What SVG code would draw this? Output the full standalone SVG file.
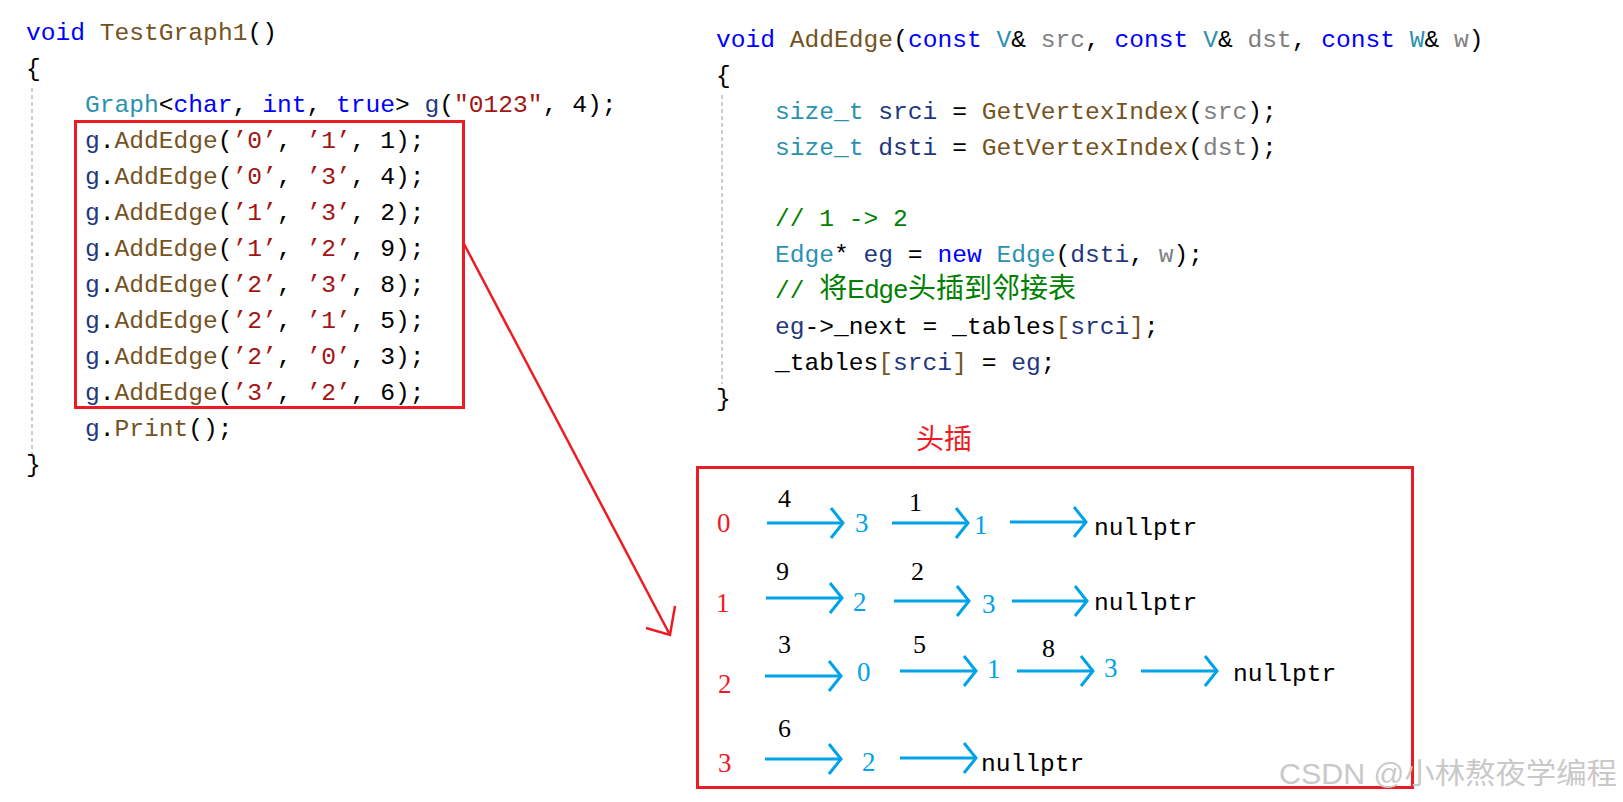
<svg xmlns="http://www.w3.org/2000/svg" width="1623" height="802" viewBox="0 0 1623 802" xml:space="preserve">
<style>
.code{font-family:"Liberation Mono","DejaVu Sans Mono",monospace;font-size:24.6px;fill:#000}
.kw{fill:#0000FF}.fn{fill:#74531F}.ty{fill:#2B91AF}.var{fill:#1F377F}.str{fill:#A31515}.prm{fill:#808080}.cm{fill:#008000}
.cjk{font-family:"Noto Sans CJK SC",sans-serif;font-size:28px}
.sans{font-family:"Liberation Sans",sans-serif;font-size:26px}
.guide{stroke:#BDBDBD;stroke-width:1.5;stroke-dasharray:4 3;fill:none}
.redbox{fill:none;stroke:#ED1C24;stroke-width:3}
.dig{font-family:"Liberation Serif",serif;font-size:27px}
.red{fill:#ED1C24}.blue{fill:#00A2E8}
.wt{font-family:"Liberation Serif",serif;font-size:26px;fill:#000}
.np{font-family:"Liberation Mono",monospace;font-size:24.6px;fill:#000}
.arr{stroke:#00A2E8;stroke-width:3;fill:none;marker-end:url(#chev)}
</style>
<defs>
<marker id="chev" markerUnits="userSpaceOnUse" markerWidth="30" markerHeight="40" viewBox="-20 -20 30 40" refX="0" refY="0" orient="auto">
<path d="M-12,-15 L0,0 L-12,15" fill="none" stroke="#00A2E8" stroke-width="3"/>
</marker>
</defs>
<rect width="1623" height="802" fill="#FFFFFF"/>

<g id="code-left">
<line class="guide" x1="32" y1="88" x2="32" y2="454"/>
<text class="code" x="26" y="40"><tspan class="kw">void</tspan> <tspan class="fn">TestGraph1</tspan>()</text>
<text class="code" x="26" y="76">{</text>
<text class="code" x="85" y="112"><tspan class="ty">Graph</tspan>&lt;<tspan class="kw">char</tspan>, <tspan class="kw">int</tspan>, <tspan class="kw">true</tspan>&gt; <tspan class="var">g</tspan>(<tspan class="str">″0123″</tspan>, 4);</text>
<text class="code" x="85" y="148"><tspan class="var">g</tspan>.<tspan class="fn">AddEdge</tspan>(<tspan class="str">’0’</tspan>, <tspan class="str">’1’</tspan>, 1);</text>
<text class="code" x="85" y="184"><tspan class="var">g</tspan>.<tspan class="fn">AddEdge</tspan>(<tspan class="str">’0’</tspan>, <tspan class="str">’3’</tspan>, 4);</text>
<text class="code" x="85" y="220"><tspan class="var">g</tspan>.<tspan class="fn">AddEdge</tspan>(<tspan class="str">’1’</tspan>, <tspan class="str">’3’</tspan>, 2);</text>
<text class="code" x="85" y="256"><tspan class="var">g</tspan>.<tspan class="fn">AddEdge</tspan>(<tspan class="str">’1’</tspan>, <tspan class="str">’2’</tspan>, 9);</text>
<text class="code" x="85" y="292"><tspan class="var">g</tspan>.<tspan class="fn">AddEdge</tspan>(<tspan class="str">’2’</tspan>, <tspan class="str">’3’</tspan>, 8);</text>
<text class="code" x="85" y="328"><tspan class="var">g</tspan>.<tspan class="fn">AddEdge</tspan>(<tspan class="str">’2’</tspan>, <tspan class="str">’1’</tspan>, 5);</text>
<text class="code" x="85" y="364"><tspan class="var">g</tspan>.<tspan class="fn">AddEdge</tspan>(<tspan class="str">’2’</tspan>, <tspan class="str">’0’</tspan>, 3);</text>
<text class="code" x="85" y="400"><tspan class="var">g</tspan>.<tspan class="fn">AddEdge</tspan>(<tspan class="str">’3’</tspan>, <tspan class="str">’2’</tspan>, 6);</text>
<text class="code" x="85" y="436"><tspan class="var">g</tspan>.<tspan class="fn">Print</tspan>();</text>
<text class="code" x="26" y="472">}</text>
</g>

<g id="highlight-box">
<rect class="redbox" x="75.5" y="121.5" width="388" height="286"/>
</g>

<g id="code-right">
<line class="guide" x1="722" y1="95" x2="722" y2="384"/>
<text class="code" x="716" y="47"><tspan class="kw">void</tspan> <tspan class="fn">AddEdge</tspan>(<tspan class="kw">const</tspan> <tspan class="ty">V</tspan>&amp; <tspan class="prm">src</tspan>, <tspan class="kw">const</tspan> <tspan class="ty">V</tspan>&amp; <tspan class="prm">dst</tspan>, <tspan class="kw">const</tspan> <tspan class="ty">W</tspan>&amp; <tspan class="prm">w</tspan>)</text>
<text class="code" x="716" y="83">{</text>
<text class="code" x="775" y="119"><tspan class="ty">size_t</tspan> <tspan class="var">srci</tspan> = <tspan class="fn">GetVertexIndex</tspan>(<tspan class="prm">src</tspan>);</text>
<text class="code" x="775" y="155"><tspan class="ty">size_t</tspan> <tspan class="var">dsti</tspan> = <tspan class="fn">GetVertexIndex</tspan>(<tspan class="prm">dst</tspan>);</text>
<text class="code cm" x="775" y="226">// 1 -&gt; 2</text>
<text class="code" x="775" y="262"><tspan class="ty">Edge</tspan>* <tspan class="var">eg</tspan> = <tspan class="kw">new</tspan> <tspan class="ty">Edge</tspan>(<tspan class="var">dsti</tspan>, <tspan class="prm">w</tspan>);</text>
<text class="code cm" x="775" y="298">// <tspan class="cjk">将</tspan><tspan class="sans">Edge</tspan><tspan class="cjk">头插到邻接表</tspan></text>
<text class="code" x="775" y="334"><tspan class="var">eg</tspan>-&gt;_next = _tables<tspan class="fn">[</tspan><tspan class="var">srci</tspan><tspan class="fn">]</tspan>;</text>
<text class="code" x="775" y="370">_tables<tspan class="fn">[</tspan><tspan class="var">srci</tspan><tspan class="fn">]</tspan> = <tspan class="var">eg</tspan>;</text>
<text class="code" x="716" y="406">}</text>
</g>

<g id="adjacency-table">
<rect class="redbox" x="697.5" y="467.5" width="715" height="320"/>
<text class="cjk red" x="916" y="449" font-size="28">头插</text>
</g>

<g id="row-0">
<text class="dig red" x="717" y="532">0</text>
<text class="dig blue" x="855" y="532">3</text>
<text class="dig blue" x="974" y="534">1</text>
<text class="wt" x="778" y="507">4</text>
<text class="wt" x="909" y="511">1</text>
<text class="np" x="1094" y="535">nullptr</text>
</g>
<g id="row-1">
<text class="dig red" x="716" y="612">1</text>
<text class="dig blue" x="853" y="611">2</text>
<text class="dig blue" x="982" y="613">3</text>
<text class="wt" x="776" y="580">9</text>
<text class="wt" x="911" y="580">2</text>
<text class="np" x="1094" y="610">nullptr</text>
</g>
<g id="row-2">
<text class="dig red" x="718" y="693">2</text>
<text class="dig blue" x="857" y="681">0</text>
<text class="dig blue" x="987" y="678">1</text>
<text class="dig blue" x="1104" y="677">3</text>
<text class="wt" x="778" y="653">3</text>
<text class="wt" x="913" y="653">5</text>
<text class="wt" x="1042" y="657">8</text>
<text class="np" x="1233" y="681">nullptr</text>
</g>
<g id="row-3">
<text class="dig red" x="718" y="772">3</text>
<text class="dig blue" x="862" y="771">2</text>
<text class="wt" x="778" y="737">6</text>
<text class="np" x="981" y="771">nullptr</text>
</g>

<g id="connectors">
<line x1="463" y1="242" x2="670" y2="635" stroke="#ED1C24" stroke-width="2.5"/>
<path d="M646,628 L670,635 L675,606" fill="none" stroke="#ED1C24" stroke-width="2.5"/>
<line class="arr" x1="767" y1="523" x2="843" y2="523"/>
<line class="arr" x1="892" y1="523" x2="968" y2="523"/>
<line class="arr" x1="1010" y1="522" x2="1086" y2="522"/>
<line class="arr" x1="766" y1="598" x2="842" y2="598"/>
<line class="arr" x1="894" y1="601" x2="969" y2="601"/>
<line class="arr" x1="1012" y1="601" x2="1087" y2="601"/>
<line class="arr" x1="765" y1="676" x2="841" y2="676"/>
<line class="arr" x1="900" y1="671" x2="976" y2="671"/>
<line class="arr" x1="1017" y1="671" x2="1093" y2="671"/>
<line class="arr" x1="1141" y1="671" x2="1217" y2="671"/>
<line class="arr" x1="765" y1="759" x2="841" y2="759"/>
<line class="arr" x1="900" y1="758" x2="976" y2="758"/>
</g>

<g id="watermark">
<text x="1279" y="784" font-family="Liberation Sans,'Noto Sans CJK SC',sans-serif" font-size="29" fill="#C9C9C9" textLength="338" lengthAdjust="spacingAndGlyphs">CSDN @小林熬夜学编程</text>
</g>
</svg>
